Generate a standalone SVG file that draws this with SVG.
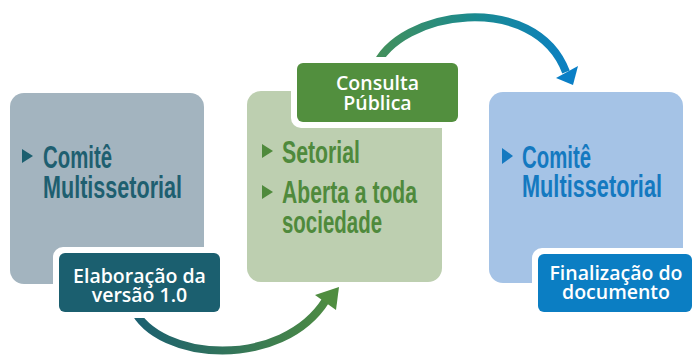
<svg xmlns="http://www.w3.org/2000/svg" width="694" height="357" viewBox="0 0 694 357">
<style>
.title{font-family:"Liberation Sans",Arial,sans-serif;font-weight:bold;font-size:31px}
.lbl{font-family:"Open Sans","DejaVu Sans",sans-serif;font-weight:600;font-size:19.5px;fill:#fff;text-anchor:middle}
.halo{fill:#fff}
</style>
<defs>
<linearGradient id="g1" gradientUnits="userSpaceOnUse" x1="133" y1="0" x2="338" y2="0">
<stop offset="0" stop-color="#1a5f71"/><stop offset="1" stop-color="#4f8d40"/>
</linearGradient>
<linearGradient id="g2" gradientUnits="userSpaceOnUse" x1="375" y1="0" x2="576" y2="0">
<stop offset="0" stop-color="#44905a"/><stop offset="0.5" stop-color="#1a8a90"/><stop offset="1" stop-color="#0a7fc6"/>
</linearGradient>
</defs>
<rect width="694" height="357" fill="#fff"/>
<g id="connectors">
<path d="M133,308 C158,362 282,370 326,300" fill="none" stroke="url(#g1)" stroke-width="8"/>
<polygon points="339,287 315,295 336,310" fill="#4f8d40"/>
<path d="M375,68 C398,10 535,-10 566,72" fill="none" stroke="url(#g2)" stroke-width="8"/>
<polygon points="573,85 556,78 578,66" fill="#0a7fc6"/>
</g>
<g id="node1">
<rect x="10" y="93" width="194" height="191" rx="14" fill="#a3b4bf"/>
<polygon points="22,149 33,156 22,163" fill="#1b5f6f"/>
<text class="title" fill="#1e5f70"><tspan x="43" y="168" textLength="69" lengthAdjust="spacingAndGlyphs">Comitê</tspan><tspan x="43" y="198" textLength="139" lengthAdjust="spacingAndGlyphs">Multissetorial</tspan></text>
</g>
<g id="label1">
<rect class="halo" x="53" y="247" width="173" height="71" rx="10"/>
<rect x="59" y="253" width="161" height="59" rx="6" fill="#1b5f6f"/>
<text class="lbl"><tspan x="139.5" y="283">Elaboração da</tspan><tspan x="139.5" y="302">versão 1.0</tspan></text>
</g>
<g id="node2">
<rect x="247" y="91" width="195" height="191" rx="14" fill="#bdcfb0"/>
<polygon points="262,144 273,151 262,158" fill="#4f8a3c"/>
<polygon points="262,185 273,192 262,199" fill="#4f8a3c"/>
<text class="title" fill="#4f8a3c"><tspan x="282" y="163" textLength="78" lengthAdjust="spacingAndGlyphs">Setorial</tspan><tspan x="282" y="203" textLength="135" lengthAdjust="spacingAndGlyphs">Aberta a toda</tspan><tspan x="282" y="233" textLength="100" lengthAdjust="spacingAndGlyphs">sociedade</tspan></text>
</g>
<g id="label2">
<rect class="halo" x="291" y="57" width="173" height="71" rx="10"/>
<rect x="297" y="63" width="161" height="59" rx="6" fill="#528f3e"/>
<text class="lbl"><tspan x="377.5" y="90">Consulta</tspan><tspan x="377.5" y="110">Pública</tspan></text>
</g>
<g id="node3">
<rect x="489" y="92" width="194" height="191" rx="14" fill="#a5c3e6"/>
<polygon points="502,148 513,156 502,164" fill="#1479c0"/>
<text class="title" fill="#1479c0"><tspan x="522" y="168" textLength="69" lengthAdjust="spacingAndGlyphs">Comitê</tspan><tspan x="522" y="197" textLength="140" lengthAdjust="spacingAndGlyphs">Multissetorial</tspan></text>
</g>
<g id="label3">
<rect class="halo" x="532" y="248" width="168" height="70" rx="10"/>
<rect x="538" y="254" width="154" height="58" rx="6" fill="#0b7ec3"/>
<text class="lbl"><tspan x="616" y="280">Finalização do</tspan><tspan x="616" y="299">documento</tspan></text>
</g>
</svg>
